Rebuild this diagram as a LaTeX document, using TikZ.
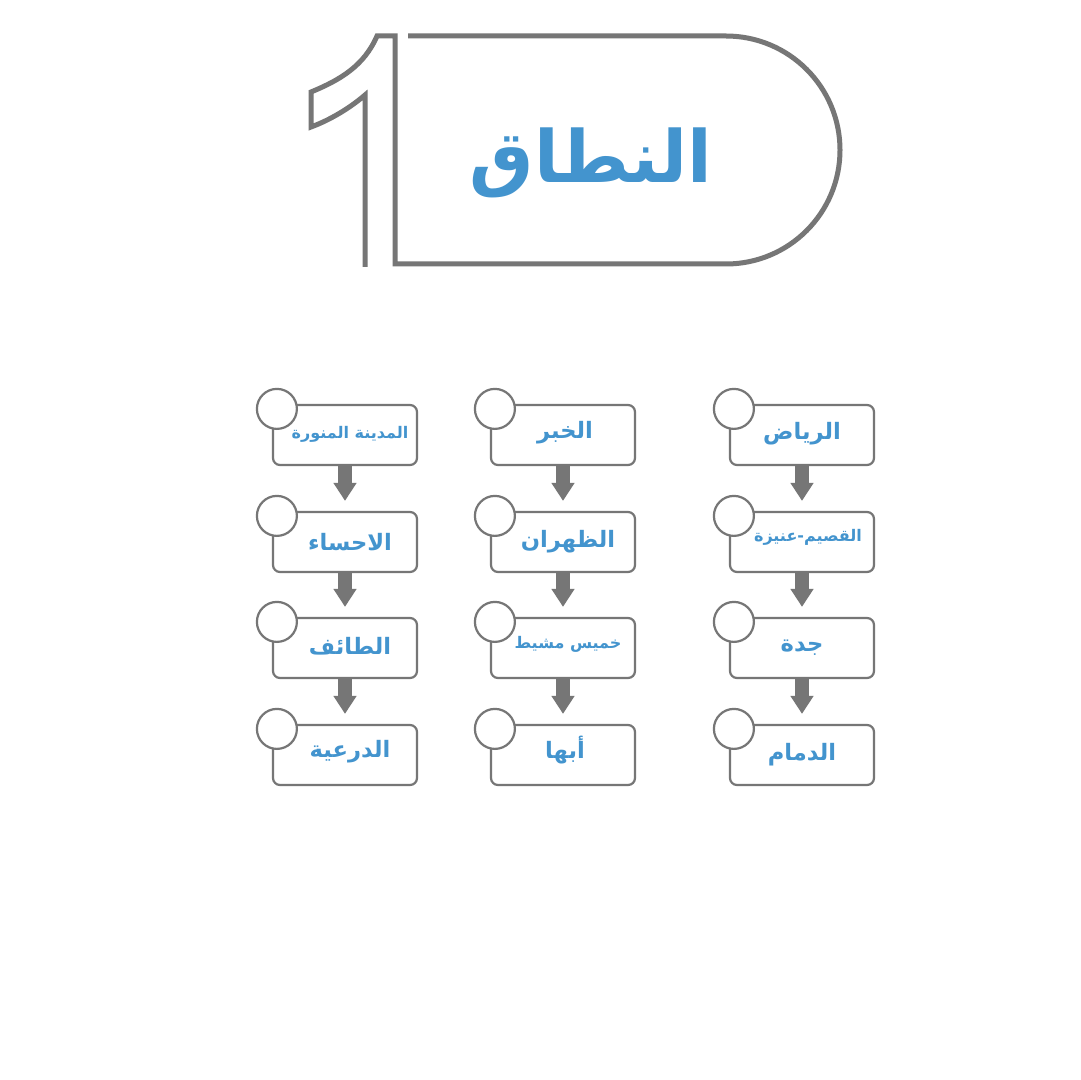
\documentclass[tikz,border=0pt]{standalone}
\usepackage{fontspec}
\usetikzlibrary{arrows.meta}
\TeXXeTstate=1
\newfontfamily\arabicfont[Script=Arabic]{DejaVu Sans}
\definecolor{lgray}{HTML}{767676}
\definecolor{lblue}{HTML}{4394CE}
\tikzset{
  titleline/.style={draw=lgray, line width=2.5pt, line join=miter},
  citybox/.style={draw=lgray, line width=1.1pt, rounded corners=3.5pt, fill=white,
    minimum width=72pt, minimum height=30pt, inner sep=0pt},
  badge/.style={circle, draw=lgray, line width=1.1pt, fill=white, minimum size=20pt, inner sep=0pt},
  cityname/.style={text=lblue, font=\arabicfont\bfseries\fontsize{11.3pt}{13pt}\selectfont, inner sep=0pt},
  smallname/.style={text=lblue, font=\arabicfont\bfseries\fontsize{8pt}{10pt}\selectfont, inner sep=0pt},
  flow/.style={draw=lgray, line width=7pt, shorten >=5pt, -{Triangle[width=11pt,length=9pt]}},
}
\begin{document}
\begin{tikzpicture}[x=0.5pt,y=-0.5pt]
\useasboundingbox (0,0) rectangle (1080,1080);
\fill[white] (0,0) rectangle (1080,1080);
% title shape
\draw[titleline] (408,36) -- (726,36) arc[start angle=-90,end angle=90,radius=114] -- (395,264) -- (395,36) -- (377,36)
  .. controls (364,66) and (340,80) .. (311,92) -- (311,127)
  .. controls (330,120) and (350,108) .. (365,95) -- (365,267);
\node[text=lblue, font=\arabicfont\bfseries\fontsize{36pt}{42pt}\selectfont, inner sep=0pt] (title) at (591,163) {\beginR النطاق\endR};
% boxes
\foreach \col/\x in {1/345,2/563,3/802}{
  \foreach \row/\y in {1/435,2/542,3/648,4/755}{
    \node[citybox] (b\col\row) at (\x,\y) {};
    \node[badge] (c\col\row) at ([xshift=2.5pt,yshift=-2.5pt]b\col\row.north west) {};
  }
}
% labels
\node[smallname] (t11) at ([xshift=2.5pt,yshift=0.5pt]b11) {\beginR المدينة المنورة\endR};
\node[cityname] (t12) at ([xshift=2.5pt]b12) {\beginR الاحساء\endR};
\node[cityname] (t13) at ([xshift=2.5pt,yshift=1pt]b13) {\beginR الطائف\endR};
\node[cityname] (t14) at ([xshift=2.5pt,yshift=1.5pt]b14) {\beginR الدرعية\endR};
\node[cityname] (t21) at ([xshift=1pt,yshift=1pt]b21) {\beginR الخبر\endR};
\node[cityname] (t22) at ([xshift=2.5pt]b22) {\beginR الظهران\endR};
\node[smallname] (t23) at ([xshift=2.5pt,yshift=2pt]b23) {\beginR خميس مشيط\endR};
\node[cityname] (t24) at ([xshift=1pt,yshift=2.5pt]b24) {\beginR أبها\endR};
\node[cityname] (t31) at ([yshift=0.5pt]b31) {\beginR الرياض\endR};
\node[smallname] (t32) at ([xshift=3pt,yshift=2.5pt]b32) {\beginR القصيم-عنيزة\endR};
\node[cityname] (t33) at (b33) {\beginR جدة\endR};
\node[cityname] (t34) at (b34) {\beginR الدمام\endR};
% arrows
\foreach \col in {1,2,3}{
  \foreach \a/\b in {1/2,2/3,3/4}{
    \draw[flow] (b\col\a.south) -- (b\col\b.north);
  }
}
\end{tikzpicture}
\end{document}
